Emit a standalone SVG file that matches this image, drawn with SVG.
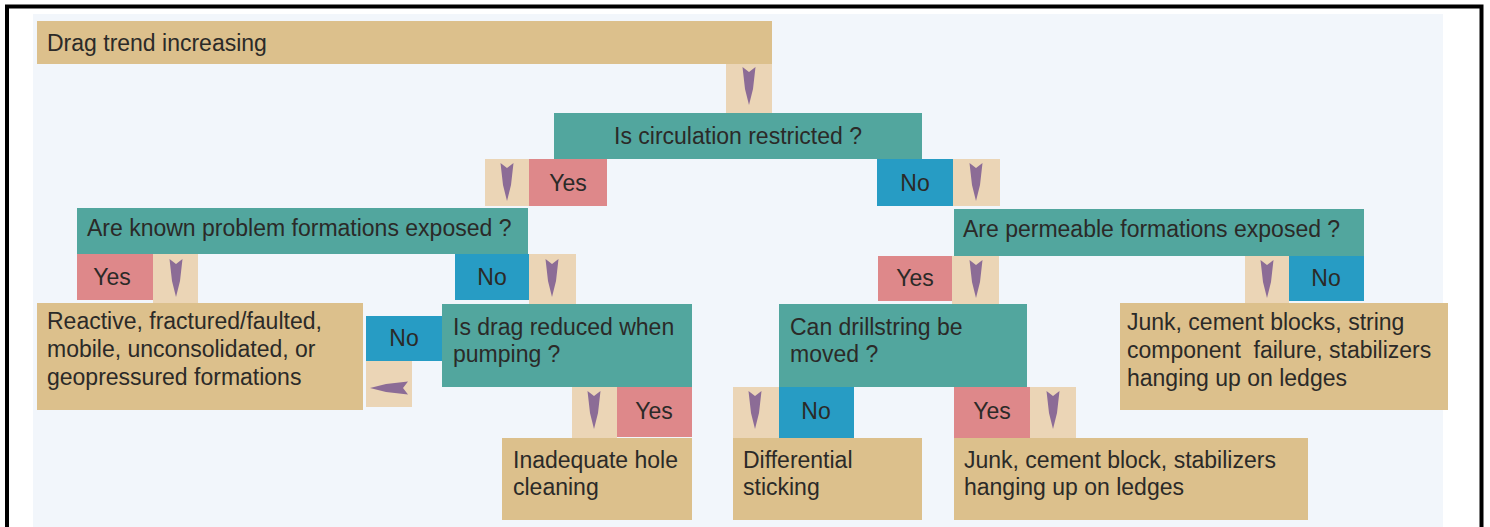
<svg xmlns="http://www.w3.org/2000/svg" width="1490" height="527" viewBox="0 0 1490 527">
  <style>
    .t { font-family: "Liberation Sans", Arial, sans-serif; font-size: 23px; fill: #2b2a28; }
    .c { text-anchor: middle; }
    .pre { white-space: pre; }
    .tan { fill: #dcc08c; }
    .teal { fill: #52a69e; }
    .link { fill: #ebd5b6; }
    .yes { fill: #de888a; }
    .no { fill: #279cc4; }
    .arr { fill: #8c6c96; }
  </style>
  <defs>
    <!-- slender downward arrow, origin at the middle of its notched tail -->
    <path id="arrow" d="M-6.5,0 L0,5 L6.5,0 L4,22 L0,38 L-4,22 Z"/>
  </defs>

  <!-- page -->
  <rect x="0" y="0" width="1490" height="527" fill="#ffffff"/>
  <rect x="33" y="14" width="1410" height="513" fill="#f2f6fb"/>
  <rect x="7" y="6.5" width="1474.5" height="540" fill="none" stroke="#000000" stroke-width="4"/>

  <!-- connectors: link strips with arrows, plus Yes/No branch labels -->
  <g id="connectors">
    <rect class="link" x="726" y="64" width="46" height="49"/>
    <use href="#arrow" class="arr" transform="translate(749,67)"/>

    <rect class="link" x="485" y="159" width="44" height="47"/>
    <use href="#arrow" class="arr" transform="translate(507,163)"/>
    <rect class="yes" x="529" y="159" width="78" height="47"/>
    <text class="t c" x="568" y="191">Yes</text>

    <rect class="no" x="877" y="159" width="76" height="47"/>
    <text class="t c" x="915" y="191">No</text>
    <rect class="link" x="953" y="159" width="47" height="47"/>
    <use href="#arrow" class="arr" transform="translate(976,163)"/>

    <rect class="yes" x="77" y="254" width="76" height="46"/>
    <text class="t c" x="112" y="285">Yes</text>
    <rect class="link" x="153" y="254" width="45" height="49"/>
    <use href="#arrow" class="arr" transform="translate(176,259)"/>

    <rect class="no" x="455" y="254" width="74" height="46"/>
    <text class="t c" x="492" y="285">No</text>
    <rect class="link" x="529" y="254" width="47" height="50"/>
    <use href="#arrow" class="arr" transform="translate(552,259)"/>

    <rect class="yes" x="878" y="256" width="74" height="45"/>
    <text class="t c" x="915" y="286">Yes</text>
    <rect class="link" x="952" y="256" width="47" height="48"/>
    <use href="#arrow" class="arr" transform="translate(976,260)"/>

    <rect class="link" x="1245" y="256" width="44" height="47"/>
    <use href="#arrow" class="arr" transform="translate(1267,260)"/>
    <rect class="no" x="1289" y="256" width="75" height="45"/>
    <text class="t c" x="1326" y="286">No</text>

    <rect class="no" x="366" y="316" width="76" height="45"/>
    <text class="t c" x="404" y="346">No</text>
    <rect class="link" x="366" y="361" width="46" height="46"/>
    <use href="#arrow" class="arr" transform="translate(408,388) rotate(90)"/>

    <rect class="link" x="572" y="387" width="45" height="51"/>
    <use href="#arrow" class="arr" transform="translate(594,391)"/>
    <rect class="yes" x="617" y="387" width="75" height="50"/>
    <text class="t c" x="654" y="419">Yes</text>

    <rect class="link" x="733" y="387" width="46" height="51"/>
    <use href="#arrow" class="arr" transform="translate(755,391)"/>
    <rect class="no" x="779" y="387" width="75" height="51"/>
    <text class="t c" x="816" y="419">No</text>

    <rect class="yes" x="954" y="387" width="76" height="51"/>
    <text class="t c" x="992" y="419">Yes</text>
    <rect class="link" x="1030" y="387" width="46" height="51"/>
    <use href="#arrow" class="arr" transform="translate(1053,391)"/>
  </g>

  <!-- start -->
  <g id="drag-trend">
    <rect class="tan" x="37" y="21" width="735" height="43"/>
    <text class="t" x="47" y="51">Drag trend increasing</text>
  </g>

  <!-- questions -->
  <g id="q-circulation">
    <rect class="teal" x="554" y="113" width="368" height="46"/>
    <text class="t c" x="738" y="144">Is circulation restricted ?</text>
  </g>
  <g id="q-known-formations">
    <rect class="teal" x="77" y="208" width="451" height="46"/>
    <text class="t" x="87" y="236">Are known problem formations exposed ?</text>
  </g>
  <g id="q-permeable">
    <rect class="teal" x="954" y="209" width="410" height="47"/>
    <text class="t" x="963" y="237">Are permeable formations exposed ?</text>
  </g>
  <g id="q-drag-pumping">
    <rect class="teal" x="442" y="304" width="250" height="83"/>
    <text class="t" x="453" y="335">Is drag reduced when</text>
    <text class="t" x="453" y="362">pumping ?</text>
  </g>
  <g id="q-drillstring">
    <rect class="teal" x="779" y="304" width="248" height="83"/>
    <text class="t" x="790" y="335">Can drillstring be</text>
    <text class="t" x="790" y="362">moved ?</text>
  </g>

  <!-- outcomes -->
  <g id="r-problem-formations">
    <rect class="tan" x="37" y="303" width="326" height="107"/>
    <text class="t" x="47" y="329">Reactive, fractured/faulted,</text>
    <text class="t" x="47" y="357">mobile, unconsolidated, or</text>
    <text class="t" x="47" y="385">geopressured formations</text>
  </g>
  <g id="r-hole-cleaning">
    <rect class="tan" x="502" y="438" width="190" height="82"/>
    <text class="t" x="513" y="468">Inadequate hole</text>
    <text class="t" x="513" y="495">cleaning</text>
  </g>
  <g id="r-differential-sticking">
    <rect class="tan" x="733" y="438" width="189" height="82"/>
    <text class="t" x="743" y="468">Differential</text>
    <text class="t" x="743" y="495">sticking</text>
  </g>
  <g id="r-junk-block">
    <rect class="tan" x="954" y="438" width="354" height="82"/>
    <text class="t" x="964" y="468">Junk, cement block, stabilizers</text>
    <text class="t" x="964" y="495">hanging up on ledges</text>
  </g>
  <g id="r-junk-blocks-failure">
    <rect class="tan" x="1120" y="303" width="328" height="107"/>
    <text class="t" x="1127" y="330">Junk, cement blocks, string</text>
    <text class="t pre" x="1127" y="358">component  failure, stabilizers</text>
    <text class="t" x="1127" y="386">hanging up on ledges</text>
  </g>
</svg>
